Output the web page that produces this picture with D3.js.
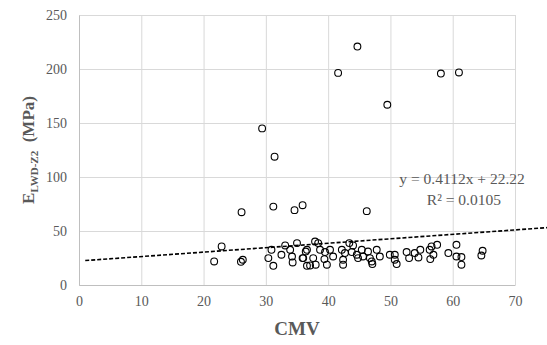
<!DOCTYPE html>
<html>
<head>
<meta charset="utf-8">
<script src="https://cdn.jsdelivr.net/npm/d3@7"></script>
<style>
  body { margin: 0; background: #fff; }
  text { font-family: "Liberation Serif", "Times New Roman", serif; }
</style>
</head>
<body>
<div class="chart"></div>
<script>
// CMV values
const cmv = [
  29.4, 31.4, 41.6, 44.7, 49.5, 58.1, 61.0,
  26.1, 31.2, 34.6, 35.9, 46.2,
  22.9, 21.7, 26.3, 26.0, 30.4, 30.9, 31.2, 32.5, 33.1, 33.9, 34.2, 34.3, 35.0, 35.9, 36.6, 36.4,
  37.9, 38.4, 36.6, 36.0, 37.6, 37.1, 38.0, 38.7, 39.5, 39.8, 40.3, 40.8, 39.4, 42.2, 42.7, 42.4, 42.4,
  43.4, 44.0, 43.8, 44.6, 45.4, 45.6, 44.8, 46.4, 46.7, 47.0, 47.1, 47.8, 48.3, 49.9, 50.7, 50.7, 51.0,
  52.6, 53.0, 53.9, 54.5, 54.8, 56.3, 56.6, 57.5, 56.9, 56.4, 59.3, 60.6, 60.6, 61.4, 61.4, 64.8, 64.6
];
// E_LWD-Z2 values (MPa)
const elwd = [
  145, 118.8, 196.4, 220.8, 166.9, 195.8, 196.8,
  67.4, 72.6, 69.3, 73.9, 68.4,
  35.7, 21.8, 23.4, 21.5, 24.9, 32.6, 17.8, 28.0, 36.6, 32.6, 26.4, 20.9, 38.8, 24.9, 17.8, 31.0,
  40.3, 38.8, 32.6, 24.9, 24.9, 18.1, 18.8, 32.6, 30.5, 18.8, 32.6, 26.4, 24.0, 32.6, 29.6, 23.4, 18.8,
  38.8, 36.6, 30.5, 28.0, 32.6, 26.4, 24.9, 31.0, 24.9, 21.8, 19.4, 32.6, 26.4, 28.0, 28.0, 23.4, 19.4,
  30.5, 24.9, 29.6, 25.5, 32.6, 32.6, 35.7, 37.2, 28.0, 24.0, 29.6, 37.2, 26.4, 25.9, 18.8, 31.7, 27.3
];
const xTicks = [0, 10, 20, 30, 40, 50, 60, 70];
const yTicks = [0, 50, 100, 150, 200, 250];
// trendline y = 0.4112x + 22.22
const slope = 0.4112;
const intercept = 22.22;
const trendX = [1, 75.5];

const points = cmv.map((d, i) => ({ x: d, y: elwd[i] }));

const svg_width = 547;
const svg_height = 345;
const margin = { top: 15, right: 32, bottom: 60, left: 79 };
const chart_width = svg_width - margin.left - margin.right;
const chart_height = svg_height - margin.top - margin.bottom;
const serif = '"Liberation Serif", "Times New Roman", serif';

const svg = d3.select('.chart').append('svg')
  .attr('width', svg_width).attr('height', svg_height);
const g = svg.append('g')
  .attr('transform', `translate(${margin.left},${margin.top})`);

const xScale = d3.scaleLinear([0, 70], [0, chart_width]);
const yScale = d3.scaleLinear([0, 250], [chart_height, 0]);

// grid lines
const xGrid = d3.axisBottom(xScale).tickValues(xTicks).tickSize(chart_height).tickFormat('');
g.append('g').attr('class', 'grid')
  .call(xGrid)
  .call(s => s.select('.domain').remove())
  .call(s => s.selectAll('line').attr('stroke', '#d9d9d9').attr('stroke-width', 1));
const yGrid = d3.axisLeft(yScale).tickValues(yTicks).tickSize(-chart_width).tickFormat('');
g.append('g').attr('class', 'grid')
  .call(yGrid)
  .call(s => s.select('.domain').remove())
  .call(s => s.selectAll('line').attr('stroke', '#d9d9d9').attr('stroke-width', 1));

// axes
const xAxis = d3.axisBottom(xScale).tickValues(xTicks).tickSize(0).tickPadding(11);
g.append('g').attr('transform', `translate(0,${chart_height})`)
  .call(xAxis)
  .attr('font-family', serif).attr('font-size', 14)
  .call(s => s.select('.domain').attr('stroke', '#bfbfbf'))
  .call(s => s.selectAll('text').attr('fill', '#595959'));

const yAxis = d3.axisLeft(yScale).tickValues(yTicks).tickSize(0).tickPadding(12);
g.append('g')
  .call(yAxis)
  .attr('font-family', serif).attr('font-size', 14)
  .call(s => s.select('.domain').attr('stroke', '#bfbfbf'))
  .call(s => s.selectAll('text').attr('fill', '#595959'));

// points
g.append('g').selectAll('circle')
  .data(points)
  .join('circle')
  .attr('cx', d => xScale(d.x))
  .attr('cy', d => yScale(d.y))
  .attr('r', 3.4)
  .attr('fill', 'none')
  .attr('stroke', '#000')
  .attr('stroke-width', 1.1);

// trendline
const line = d3.line().x(d => xScale(d)).y(d => yScale(slope * d + intercept));
g.append('path')
  .datum(trendX)
  .attr('d', line)
  .attr('fill', 'none')
  .attr('stroke', '#000')
  .attr('stroke-width', 1.6)
  .attr('stroke-dasharray', '4,2');

// equation
const eq = g.append('text').attr('fill', '#595959').style('font-size', '15.5px')
  .attr('text-anchor', 'middle');
eq.append('tspan').attr('x', xScale(61.5)).attr('y', yScale(93.5)).text('y = 0.4112x + 22.22');
eq.append('tspan').attr('x', xScale(61.8)).attr('y', yScale(74)).text('R² = 0.0105');

// axis titles
svg.append('text')
  .attr('x', margin.left + chart_width / 2)
  .attr('y', 335)
  .attr('text-anchor', 'middle')
  .attr('fill', '#595959')
  .style('font-size', '19px').style('font-weight', 'bold')
  .text('CMV');

const yTitle = svg.append('text')
  .attr('transform', `translate(34,${margin.top + chart_height / 2}) rotate(-90)`)
  .attr('text-anchor', 'middle')
  .attr('fill', '#595959')
  .style('font-size', '17px').style('font-weight', 'bold');
yTitle.append('tspan').text('E');
yTitle.append('tspan').attr('dy', 4).style('font-size', '11px').text('LWD-Z2');
yTitle.append('tspan').attr('dy', -4).text('\u00a0 (MPa)');
</script>
</body>
</html>
